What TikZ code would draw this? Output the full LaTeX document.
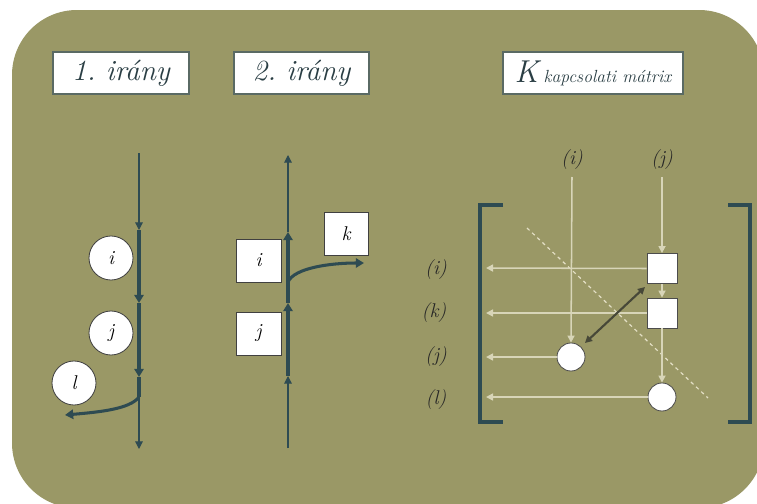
\documentclass[tikz,border=0pt]{standalone}
\usetikzlibrary{arrows.meta}
\definecolor{olivebg}{HTML}{9A9866}
\definecolor{flowcol}{HTML}{2E4B52}
\definecolor{palecol}{HTML}{D8D5B8}
\definecolor{dashcol}{HTML}{E4E0C6}
\definecolor{dgray}{HTML}{474838}
\definecolor{boxline}{HTML}{5A6A64}
\definecolor{txtcol}{HTML}{2A3E44}
\frenchspacing
\begin{document}
\begin{tikzpicture}[x=0.03cm,y=-0.03cm,
  titlebox/.style={draw=boxline,line width=0.9pt,fill=white,inner sep=0pt,minimum height=1.26cm,text=txtcol},
  circnode/.style={circle,draw=black!75,line width=0.7pt,fill=white,minimum size=1.32cm,inner sep=0pt,font=\fontsize{17}{20}\selectfont\itshape},
  sqnode/.style={draw=black!75,line width=0.7pt,fill=white,inner sep=0pt,font=\fontsize{17}{20}\selectfont\itshape},
  thinflow/.style={draw=flowcol,line width=0.9pt,-{Triangle[length=6.5pt,width=6.5pt]}},
  thickflow/.style={draw=flowcol,line width=2.6pt,-{Triangle[length=7pt,width=8pt]}},
  palearrow/.style={draw=palecol,line width=1.3pt,-{Triangle[length=6pt,width=6pt]}},
  mlabel/.style={font=\fontsize{17}{20}\selectfont\itshape,text=black!85},
  mbox/.style={draw=black!70,line width=0.7pt,fill=white,minimum size=0.9cm,inner sep=0pt},
  mcirc/.style={circle,draw=black!70,line width=0.7pt,fill=white,minimum size=0.84cm,inner sep=0pt}]
\useasboundingbox (0,0) rectangle (757,503);
\clip (0,0) rectangle (757,503);
\fill[white] (0,0) rectangle (757,503);
\fill[olivebg,rounded corners=1.95cm] (12,10) rectangle (764,508);

% titles
\node[titlebox,minimum width=4.08cm] (t1) at (121,73) {\fontsize{25}{30}\selectfont\itshape 1. irány};
\node[titlebox,minimum width=4.05cm] (t2) at (301.5,73) {\fontsize{25}{30}\selectfont\itshape 2. irány};
\node[titlebox,minimum width=5.4cm] (t3) at (593,73) {\fontsize{27}{30}\selectfont\itshape K\,{\fontsize{15}{18}\selectfont kapcsolati mátrix}};

% direction 1
\coordinate (a0) at (139,153);
\coordinate (a1) at (139,230);
\coordinate (a2) at (139,303);
\coordinate (a3) at (139,377);
\coordinate (a4) at (139,397);
\coordinate (a5) at (139,449);
\coordinate (aend) at (65,415);
\node[circnode] (ci) at (111,258) {i};
\node[circnode] (cj) at (111,333) {j};
\node[circnode] (cl) at (74,383) {l};
\draw[thinflow] (a0) -- (a1);
\draw[thickflow] (a1) -- (a2);
\draw[thickflow] (a2) -- (a3);
\draw[draw=flowcol,line width=2.6pt] (a3) -- (a4);
\draw[thickflow] (a4) .. controls (130,409) and (100,412) .. (aend);
\draw[thinflow] (a4) -- (a5);

% direction 2
\coordinate (b0) at (288,448);
\coordinate (b1) at (288,376);
\coordinate (b2) at (288,303);
\coordinate (b3) at (288,232);
\coordinate (b4) at (288,155);
\coordinate (bc) at (288,282);
\coordinate (bend) at (364,263);
\node[sqnode,minimum width=1.35cm,minimum height=1.29cm] (si) at (258.5,260.5) {i};
\node[sqnode,minimum width=1.35cm,minimum height=1.29cm] (sj) at (258.5,333.5) {j};
\node[sqnode,minimum width=1.32cm,minimum height=1.29cm] (sk) at (346,233.5) {k};
\draw[thinflow] (b0) -- (b1);
\draw[thickflow] (b1) -- (b2);
\draw[thickflow] (b2) -- (b3);
\draw[thinflow] (b3) -- (b4);
\draw[thickflow] (bc) .. controls (294,268) and (330,263) .. (bend);

% matrix
\draw[flowcol,line width=3.4pt] (503,205) -- (480,205) -- (480,422) -- (503,422);
\draw[flowcol,line width=3.4pt] (728,205) -- (750,205) -- (750,422) -- (728,422);
\node[mlabel] (li) at (572,160) {(i)};
\node[mlabel] (lj) at (662,160) {(j)};
\node[mlabel] (ri) at (436,270) {(i)};
\node[mlabel] (rk) at (434,313) {(k)};
\node[mlabel] (rj) at (436,357) {(j)};
\node[mlabel] (rl) at (436,400) {(l)};
\coordinate (ti) at (572,177);
\coordinate (tj) at (662,177);
\coordinate (e1) at (486,268);
\coordinate (e2) at (486,313);
\coordinate (e3) at (486,357);
\coordinate (e4) at (486,397);
\node[mbox] (q1) at (662,268.5) {};
\node[mbox] (q2) at (662,313) {};
\node[mcirc] (c1) at (571,357) {};
\node[mcirc] (c2) at (662,397) {};
\draw[dashcol,line width=1pt,dashed] (527,228) -- (708,398);
\draw[palearrow] (ti) -- (c1.north);
\draw[palearrow] (tj) -- (q1.north);
\draw[palearrow] (q1.south) -- (q2.north);
\draw[palearrow] (q2.south) -- (c2.north);
\draw[palearrow] (q1.west) -- (e1);
\draw[palearrow] (q2.west) -- (e2);
\draw[palearrow] (c1.west) -- (e3);
\draw[palearrow] (c2.west) -- (e4);
\coordinate (d1) at (645,287);
\coordinate (d2) at (585,343);
\draw[dgray,line width=1.8pt,{Triangle[length=6pt,width=6pt]}-{Triangle[length=6pt,width=6pt]}] (d1) -- (d2);
\end{tikzpicture}
\end{document}
